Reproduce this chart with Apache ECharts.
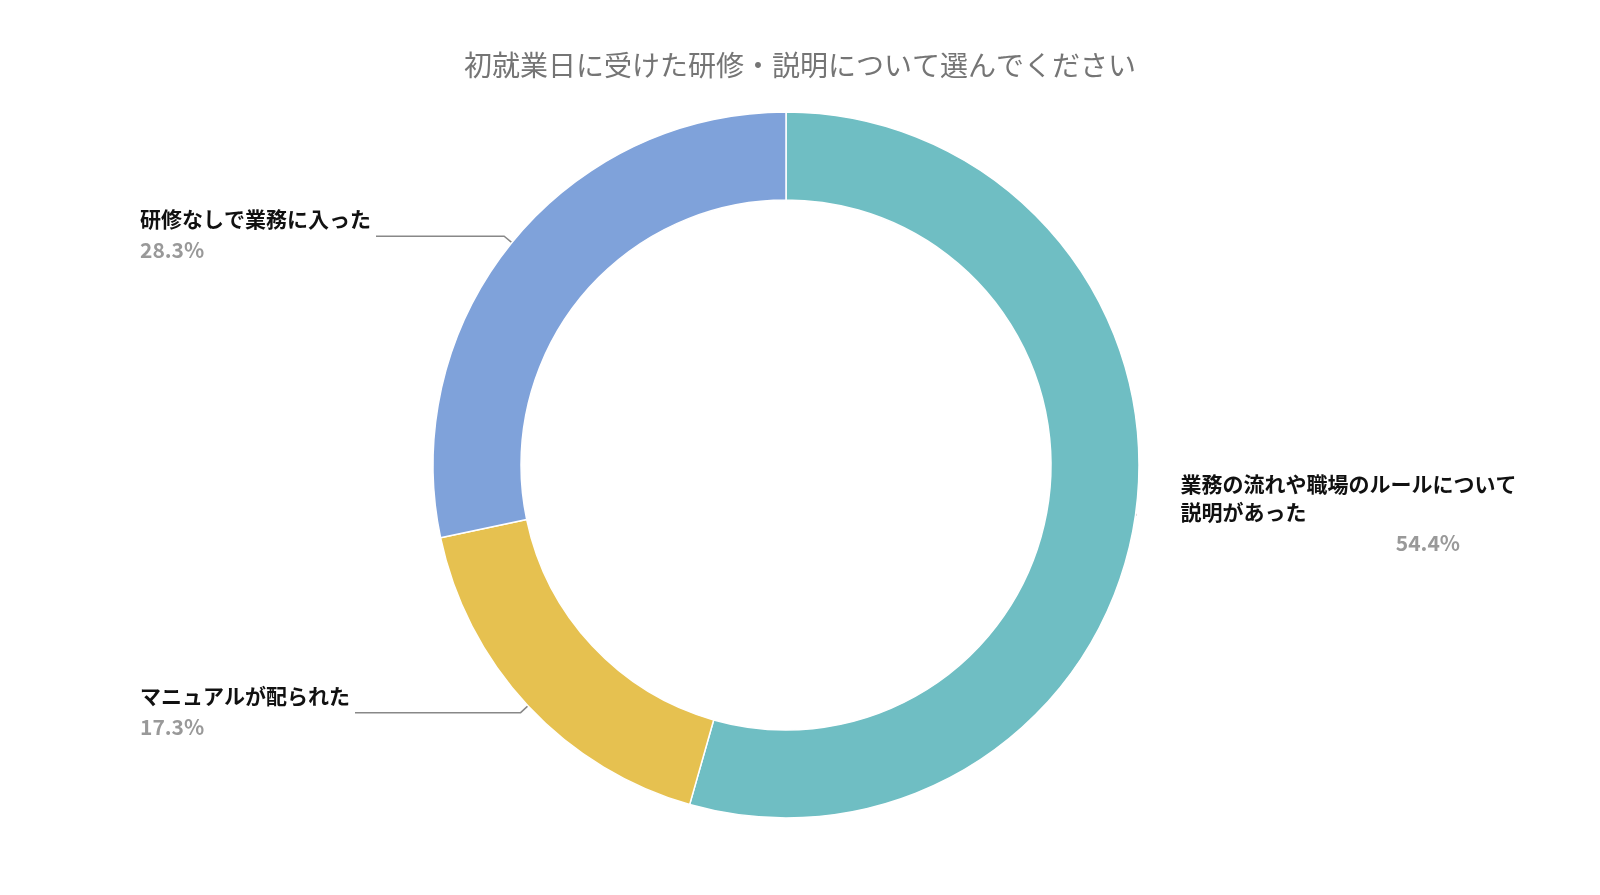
<!DOCTYPE html>
<html><head><meta charset="utf-8">
<script src="https://cdn.jsdelivr.net/npm/echarts@6/dist/echarts.min.js"></script>
<style>html,body{margin:0;background:#fff}#c{width:1600px;height:895px}</style>
</head><body><div id="c"></div>
<script>
const categories = ['業務の流れや職場のルールについて\n説明があった', 'マニュアルが配られた', '研修なしで業務に入った'];
const values = [54.4, 17.3, 28.3];
const colors = ['#6fbec3', '#e6c150', '#7fa2da'];
const chart = echarts.init(document.getElementById('c'));
chart.setOption({
  title: {text: '初就業日に受けた研修・説明について選んでください', left: 'center', top: 46,
    textStyle: {fontFamily: 'Noto Sans CJK JP', fontSize: 28, fontWeight: 'normal', color: '#757575'}},
  series: [{
    type: 'pie', center: [786, 465], radius: [265, 353], startAngle: 90, clockwise: true,
    data: categories.map((n, i) => ({name: n, value: values[i], itemStyle: {color: colors[i]}})),
    itemStyle: {borderColor: '#fff', borderWidth: 1.5},
    label: {alignTo: 'edge', edgeDistance: 140, overflow: 'none', fontFamily: 'Noto Sans CJK JP',
      formatter: p => '{n|' + p.name + '}\n{p|' + p.value.toFixed(1) + '%}',
      rich: {n: {fontSize: 21, fontWeight: 'bold', color: '#111', lineHeight: 28, align: 'left', fontFamily: 'Noto Sans CJK JP'},
             p: {fontSize: 21, fontWeight: 'bold', color: '#999', lineHeight: 34, fontFamily: 'Noto Sans CJK JP'}}},
    labelLine: {show: true, length: 10, length2: 30, lineStyle: {color: '#888', width: 1.5}}
  }]
});
</script></body></html>
